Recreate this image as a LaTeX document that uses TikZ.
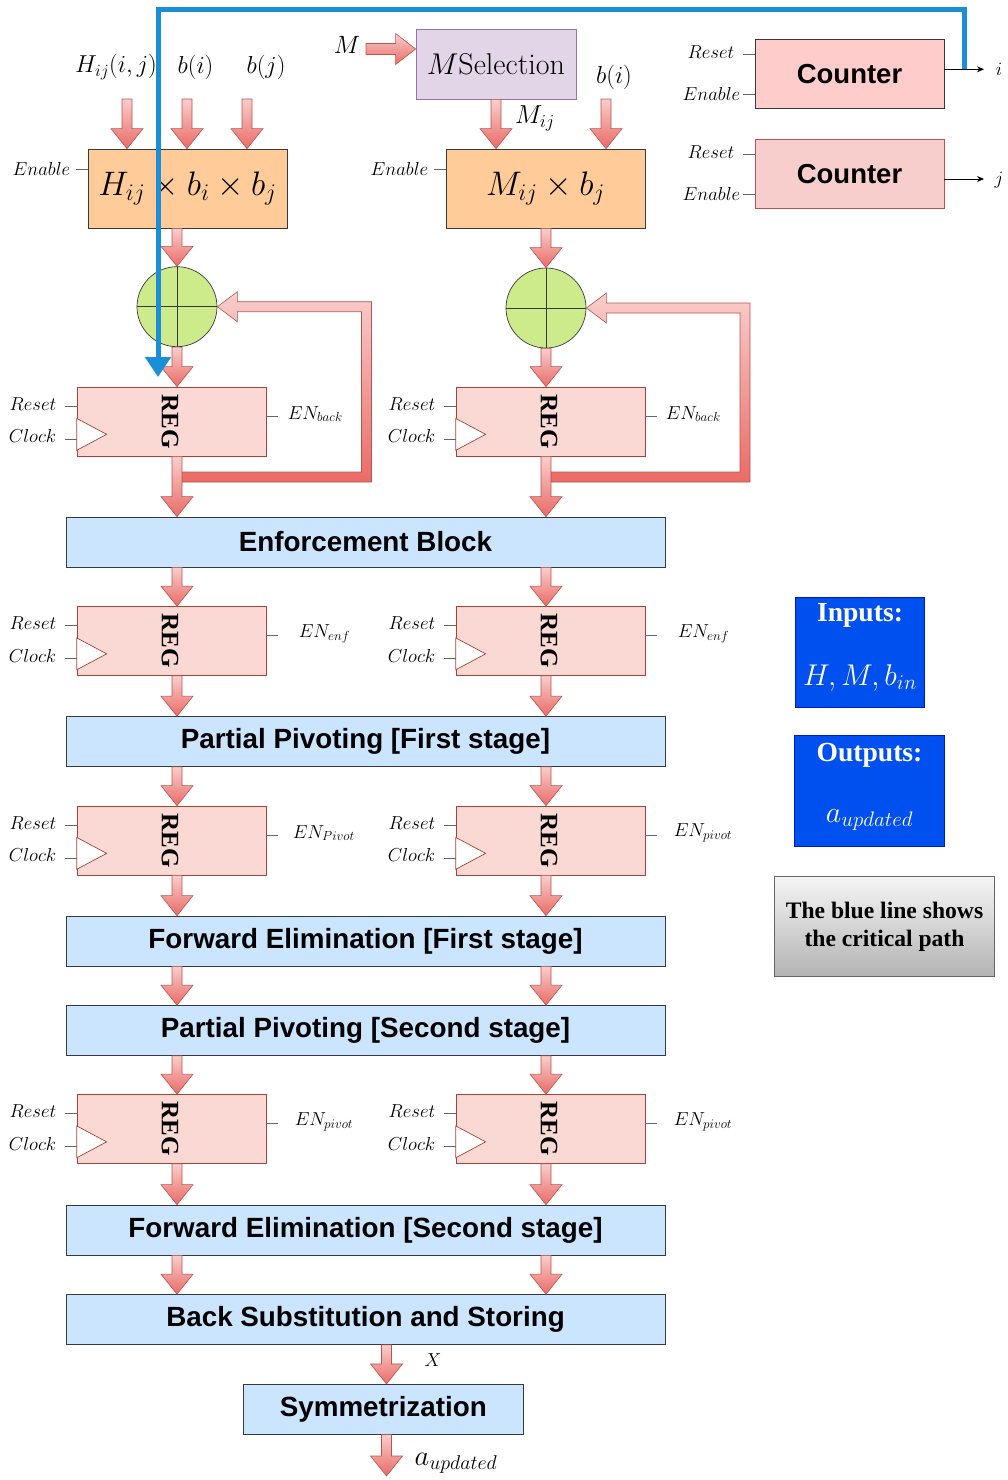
\RequirePackage{fix-cm}
\documentclass[tikz,border=0pt]{standalone}
\usepackage{fontspec}
\newfontfamily\arialf{Liberation Sans}
\newfontfamily\timesf{Liberation Serif}
\usetikzlibrary{arrows.meta,calc}
\definecolor{arrL}{HTML}{F8CECC}
\definecolor{arrD}{HTML}{EA6B66}
\definecolor{arrS}{HTML}{B85450}
\definecolor{regF}{HTML}{FAD9D5}
\definecolor{regS}{HTML}{AE4132}
\definecolor{orgF}{HTML}{FFCC99}
\definecolor{dkS}{HTML}{36393D}
\definecolor{purF}{HTML}{E1D5E7}
\definecolor{purS}{HTML}{9673A6}
\definecolor{blkF}{HTML}{CCE5FF}
\definecolor{grnF}{HTML}{CDEB8B}
\definecolor{cntF}{HTML}{FFCCCC}
\definecolor{blueP}{HTML}{1A8FD8}
\definecolor{inF}{HTML}{0050EF}
\definecolor{inS}{HTML}{001DBC}
\definecolor{gryS}{HTML}{666666}
\definecolor{gryT}{HTML}{F5F5F5}
\definecolor{gryB}{HTML}{B3B3B3}
\tikzset{
  fatarr/.style={draw=arrS, line width=0.6pt, top color=arrL, bottom color=arrD, line join=miter},
  regst/.style={draw=regS, fill=regF, line width=0.7pt, minimum width=189pt, minimum height=69pt, inner sep=0pt},
  regtxt/.style={rotate=-90, font=\timesf\bfseries\fontsize{25}{25}\selectfont, inner sep=0pt},
  blk/.style={draw=dkS, fill=blkF, line width=0.7pt, minimum width=599pt, minimum height=50pt, inner sep=0pt, font=\arialf\bfseries\fontsize{27.8}{30}\selectfont},
  mulbox/.style={draw=dkS, fill=orgF, line width=0.7pt, minimum width=199pt, minimum height=79pt, inner sep=0pt, font=\fontsize{34}{38}\selectfont},
  cntbox/.style={line width=0.7pt, minimum width=189pt, minimum height=69.5pt, inner sep=0pt, font=\arialf\bfseries\fontsize{27.5}{30}\selectfont},
  adder/.style={circle, draw=dkS, fill=grnF, line width=0.7pt, minimum size=80pt, inner sep=0pt},
  lbl/.style={font=\fontsize{18.8}{22}\selectfont, inner sep=0pt},
  biglbl/.style={font=\fontsize{24.5}{28}\selectfont, inner sep=0pt},
  pin/.style={draw=gryS, line width=0.8pt},
  infobox/.style={draw=inS, fill=inF, line width=0.7pt, inner sep=0pt},
  infotxt/.style={text=white, inner sep=0pt, font=\timesf\bfseries\fontsize{27.6}{30}\selectfont},
  critpath/.style={draw=blueP, line width=5pt, -{Triangle[width=25pt,length=20pt]}},
  outarr/.style={line width=0.8pt, -{Stealth[length=7pt,width=6pt]}}
}
\newcommand\fatdn[2]{\path[fatarr] let \p1=#1, \p2=#2 in (\x1-5pt,\y1) -- (\x1-5pt,\y2+20pt) -- (\x1-16pt,\y2+20pt) -- (\x1,\y2) -- (\x1+16pt,\y2+20pt) -- (\x1+5pt,\y2+20pt) -- (\x1+5pt,\y1) -- cycle;}
\newcommand\fatrt[2]{\path[fatarr] let \p1=#1, \p2=#2 in (\x1,\y1+5.5pt) -- (\x2-20pt,\y1+5.5pt) -- (\x2-20pt,\y1+15.5pt) -- (\x2,\y1) -- (\x2-20pt,\y1-15.5pt) -- (\x2-20pt,\y1-5.5pt) -- (\x1,\y1-5.5pt) -- cycle;}
\newcommand\fatloop[3]{\path[fatarr] let \p1=#1, \p2=#2, \p3=#3 in (\x1+5pt,\y3-5pt) -- (\x3+5pt,\y3-5pt) -- (\x3+5pt,\y2+5pt) -- (\x2+20pt,\y2+5pt) -- (\x2+20pt,\y2+15pt) -- (\x2,\y2) -- (\x2+20pt,\y2-15pt) -- (\x2+20pt,\y2-5pt) -- (\x3-5pt,\y2-5pt) -- (\x3-5pt,\y3+5pt) -- (\x1+5pt,\y3+5pt) -- cycle;}
\newcommand\regbox[3]{%
  \node[regst] (#1) at (#2,#3) {};
  \node[regtxt] at ([shift={(-1.5,0)}]#1.center) {REG};
  \draw[draw=regS, fill=white, line width=0.7pt] ([shift={(0,-6)}]#1.south west) -- ([shift={(30,-22)}]#1.south west) -- ([shift={(0,-38)}]#1.south west) -- cycle;
  \draw[pin] ([shift={(0,-15.5)}]#1.west) -- ++(-12,0) node[lbl,anchor=east,xshift=-8pt,yshift=2pt] {$Reset$};
  \draw[pin] ([shift={(0,17.5)}]#1.west) -- ++(-12,0) node[lbl,anchor=east,xshift=-8pt,yshift=3pt] {$Clock$};
}
\newcommand\enlbl[3]{\draw[pin] ([shift={(0,-5.5)}]#1.east) -- ++(12,0) node[lbl, anchor=west, xshift=#2pt, yshift=2pt] {$#3$};}
\begin{document}
\begin{tikzpicture}[x=1pt,y=-1pt]
\useasboundingbox (0,0) rectangle (1007,1480);
% ---------- top left multiplier
\node[mulbox] (hbox) at (187.5,188.5) {$H_{ij}\times b_i\times b_j$};
\node[biglbl] (lH) at (116,67) {$H_{ij}(i,j)$};
\node[biglbl] (lbi) at (195.5,67) {$b(i)$};
\node[biglbl] (lbj) at (266,67) {$b(j)$};
\coordinate (inH) at (127,99);
\coordinate (inbi) at (187,99);
\coordinate (inbj) at (247,99);
\fatdn{(inH)}{(hbox.north -| inH)}
\fatdn{(inbi)}{(hbox.north -| inbi)}
\fatdn{(inbj)}{(hbox.north -| inbj)}
\draw[pin] ([shift={(0,-19.5)}]hbox.west) -- ++(-12,0) node[lbl,anchor=east,xshift=-5pt] {$Enable$};
% ---------- top middle
\node[draw=purS, fill=purF, line width=0.7pt, minimum width=160pt, minimum height=70pt, inner sep=0pt, font=\fontsize{30}{33}\selectfont] (msel) at (496,64) {$M$Selection};
\node[font=\fontsize{25}{28}\selectfont, inner sep=0pt] (lM) at (347,45) {$M$};
\coordinate (inM) at (366,49);
\fatrt{(inM)}{(msel.west |- inM)}
\node[mulbox] (mbox) at (545.5,188.5) {$M_{ij}\times b_j$};
\fatdn{(msel.south)}{(mbox.north -| msel.south)}
\node[font=\fontsize{26}{28}\selectfont, inner sep=0pt] (lMij) at (535,118) {$M_{ij}$};
\node[biglbl] (lbi2) at (614,77) {$b(i)$};
\coordinate (inbi2) at (606,99);
\fatdn{(inbi2)}{(mbox.north -| inbi2)}
\draw[pin] ([shift={(0,-19.5)}]mbox.west) -- ++(-12,0) node[lbl,anchor=east,xshift=-5pt] {$Enable$};
% ---------- counters
\node[cntbox, draw=dkS, fill=cntF] (cnt1) at (849.5,74) {Counter};
\node[cntbox, draw=arrS, fill=arrL] (cnt2) at (849.5,174) {Counter};
\draw[pin] ([shift={(0,-20)}]cnt1.west) -- ++(-12,0) node[lbl,anchor=east,xshift=-8pt,yshift=2pt] {$Reset$};
\draw[pin] ([shift={(0,20)}]cnt1.west) -- ++(-12,0) node[lbl,anchor=east,xshift=-2pt] {$Enable$};
\draw[pin] ([shift={(0,-20)}]cnt2.west) -- ++(-12,0) node[lbl,anchor=east,xshift=-8pt,yshift=2pt] {$Reset$};
\draw[pin] ([shift={(0,20)}]cnt2.west) -- ++(-12,0) node[lbl,anchor=east,xshift=-2pt] {$Enable$};
\coordinate (iout) at (984,69.3);
\coordinate (jout) at (984,179);
\draw[outarr] (cnt1.east |- iout) -- (iout);
\draw[outarr] (cnt2.east |- jout) -- (jout);
\node[lbl] (li) at (999,69) {$i$};
\node[lbl] (lj) at (999,180) {$j$};
% ---------- adders
\node[adder] (add1) at (177,306.7) {};
\node[adder] (add2) at (546,308) {};
\draw[draw=dkS, line width=0.7pt] (add1.north) -- (add1.south) (add1.west) -- (add1.east);
\draw[draw=dkS, line width=0.7pt] (add2.north) -- (add2.south) (add2.west) -- (add2.east);
\fatdn{(hbox.south -| add1)}{(add1.north)}
\fatdn{(mbox.south -| add2)}{(add2.north)}
% ---------- registers
\regbox{r1a}{171.5}{421.5}
\regbox{r1b}{550.5}{421.5}
\regbox{r2a}{171.5}{641}
\regbox{r2b}{550.5}{641}
\regbox{r3a}{171.5}{840.5}
\regbox{r3b}{550.5}{840.5}
\regbox{r4a}{171.5}{1129}
\regbox{r4b}{550.5}{1129}
\enlbl{r1a}{9}{EN_{back}}
\enlbl{r1b}{8}{EN_{back}}
\enlbl{r2a}{20}{EN_{enf}}
\enlbl{r2b}{20}{EN_{enf}}
\enlbl{r3a}{14}{EN_{Pivot}}
\enlbl{r3b}{16}{EN_{pivot}}
\enlbl{r4a}{16}{EN_{pivot}}
\enlbl{r4b}{16}{EN_{pivot}}
\fatdn{(add1.south)}{(r1a.north -| add1)}
\fatdn{(add2.south)}{(r1b.north -| add2)}
% ---------- feedback loops
\coordinate (lp1) at (366.5,477);
\coordinate (lp2) at (745,477);
\fatloop{(r1a.south -| add1)}{(add1.east)}{(lp1)}
\fatloop{(r1b.south -| add2)}{(add2.east)}{(lp2)}
% ---------- blocks
\node[blk] (enf) at (365.5,542) {Enforcement Block};
\node[blk] (pp1) at (365.5,741.5) {Partial Pivoting [First stage]};
\node[blk] (fe1) at (365.5,941) {Forward Elimination [First stage]};
\node[blk] (pp2) at (365.5,1030.5) {Partial Pivoting [Second stage]};
\node[blk] (fe2) at (365.5,1230) {Forward Elimination [Second stage]};
\node[blk] (bs) at (365.5,1319.5) {Back Substitution and Storing};
\node[blk, minimum width=280pt] (sym) at (383.3,1409.3) {Symmetrization};
% vertical flow
\fatdn{(r1a.south -| add1)}{(enf.north -| add1)}
\fatdn{(r1b.south -| add2)}{(enf.north -| add2)}
\fatdn{(enf.south -| add1)}{(r2a.north -| add1)}
\fatdn{(enf.south -| add2)}{(r2b.north -| add2)}
\fatdn{(r2a.south -| add1)}{(pp1.north -| add1)}
\fatdn{(r2b.south -| add2)}{(pp1.north -| add2)}
\fatdn{(pp1.south -| add1)}{(r3a.north -| add1)}
\fatdn{(pp1.south -| add2)}{(r3b.north -| add2)}
\fatdn{(r3a.south -| add1)}{(fe1.north -| add1)}
\fatdn{(r3b.south -| add2)}{(fe1.north -| add2)}
\fatdn{(fe1.south -| add1)}{(pp2.north -| add1)}
\fatdn{(fe1.south -| add2)}{(pp2.north -| add2)}
\fatdn{(pp2.south -| add1)}{(r4a.north -| add1)}
\fatdn{(pp2.south -| add2)}{(r4b.north -| add2)}
\fatdn{(r4a.south -| add1)}{(fe2.north -| add1)}
\fatdn{(r4b.south -| add2)}{(fe2.north -| add2)}
\fatdn{(fe2.south -| add1)}{(bs.north -| add1)}
\fatdn{(fe2.south -| add2)}{(bs.north -| add2)}
\coordinate (xcol) at (386.5,1000);
\fatdn{(bs.south -| xcol)}{(sym.north -| xcol)}
\coordinate (aout) at (386.5,1476);
\fatdn{(sym.south -| xcol)}{(aout)}
\node[lbl] (lX) at (433,1360) {$X$};
\node[font=\fontsize{28.5}{30}\selectfont, inner sep=0pt] (laout) at (456,1463) {$a_{updated}$};
% ---------- info boxes
\node[infobox, minimum width=129pt, minimum height=110pt] (inbox) at (860,652) {};
\node[infotxt] at ([shift={(0,19)}]inbox.north) {Inputs:};
\node[infotxt, font=\fontsize{30}{33}\selectfont] at ([shift={(0,81)}]inbox.north) {$H,M,b_{in}$};
\node[infobox, minimum width=150pt, minimum height=111pt] (outbox) at (869.5,791) {};
\node[infotxt] at ([shift={(0,20)}]outbox.north) {Outputs:};
\node[infotxt, font=\fontsize{30}{33}\selectfont] at ([shift={(0,85)}]outbox.north) {$a_{updated}$};
\node[draw=gryS, top color=gryT, bottom color=gryB, line width=0.8pt, minimum width=219.5pt, minimum height=100pt, inner sep=0pt, align=center, font=\timesf\bfseries\fontsize{23.6}{28}\selectfont] (note) at (884.5,926.5) {The blue line shows\\the critical path};
% ---------- critical path
\coordinate (bjoin) at (964.5,69.3);
\coordinate (btop) at (158,9.5);
\coordinate (btip) at (158,377);
\draw[critpath] (bjoin) |- (btop) -- (btip);
\end{tikzpicture}
\end{document}
